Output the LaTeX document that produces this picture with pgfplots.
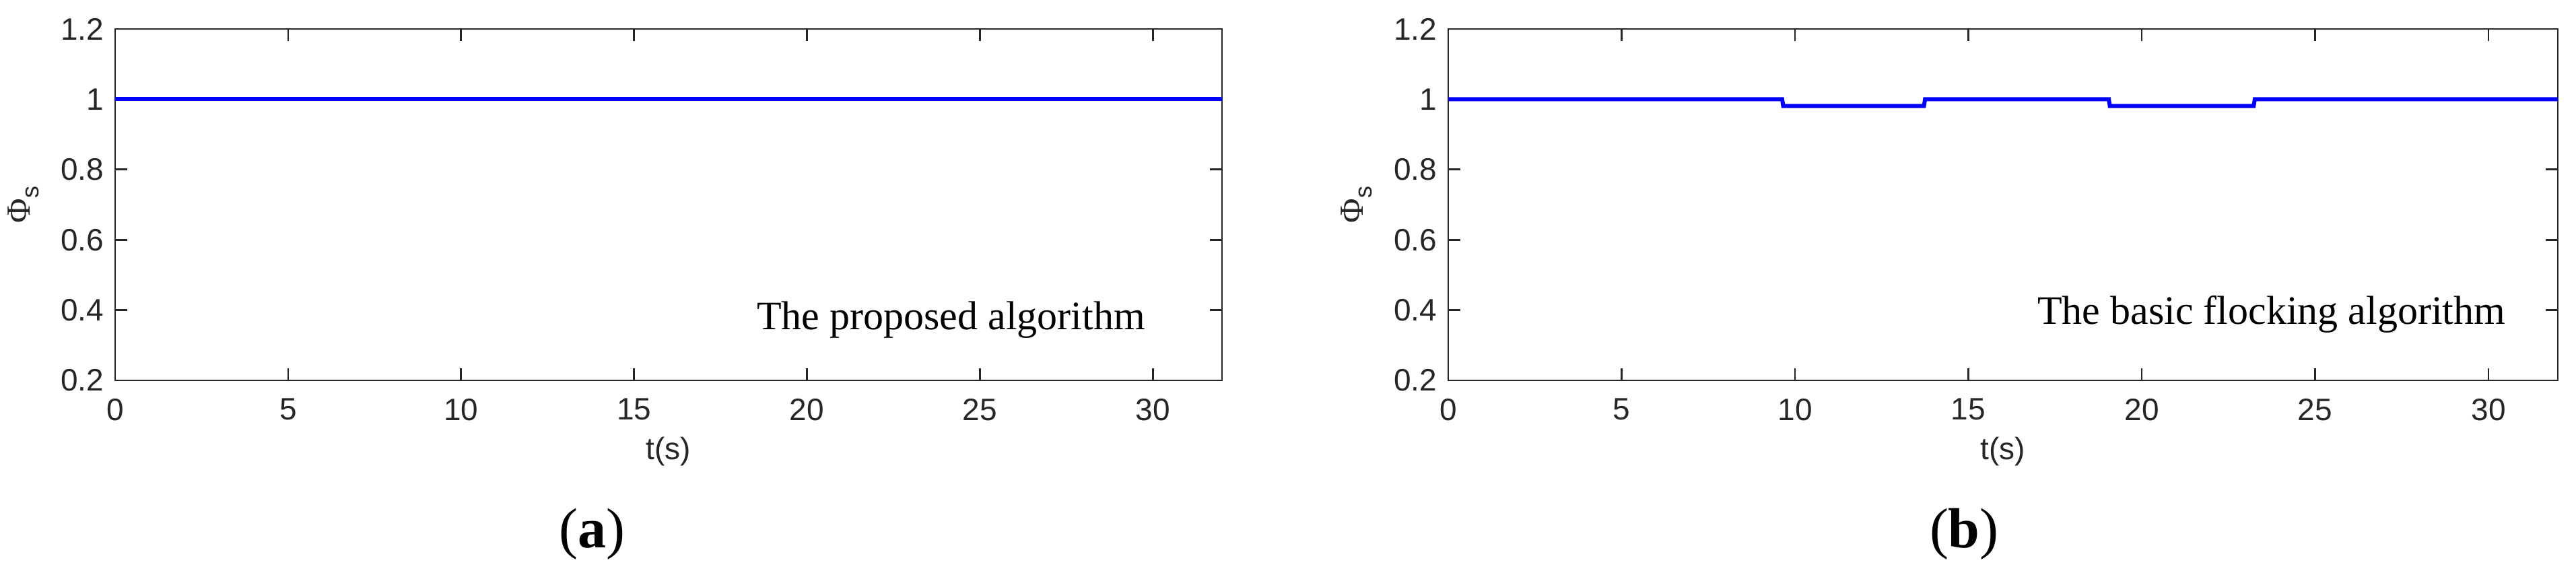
\documentclass[border=0pt]{standalone}
\usepackage{fontspec}
\setmainfont{Liberation Serif}
\setsansfont{Liberation Sans}
\usepackage{pgfplots}
\pgfplotsset{compat=1.18}
\definecolor{axgray}{RGB}{38,38,38}
\pgfplotsset{
  panel/.style={
    scale only axis,
    width=411pt, height=130.5pt,
    xmin=0, xmax=32, ymin=0.2, ymax=1.2,
    xtick={0,5,10,15,20,25,30},
    ytick={0.2,0.4,0.6,0.8,1,1.2},
    yticklabels={0.2,0.4,0.6,0.8,1,1.2},
    tick align=inside,
    major tick length=4.5pt,
    tick pos=both,
    xticklabel pos=bottom, yticklabel pos=left,
    axis line style={axgray, line width=0.67pt},
    every tick/.style={axgray, line width=0.67pt},
    /pgf/number format/assume math mode=true,
    tick label style={font=\sffamily\fontsize{11.5}{12}\selectfont, text=axgray},
    xticklabel style={yshift=-3.2pt},
    yticklabel style={xshift=-0.7pt},
    xlabel={t(s)},
    xlabel style={font=\sffamily\fontsize{11.5}{12}\selectfont, text=axgray, at={(rel axis cs:0.5,0)}, anchor=center, yshift=-26.5pt},
    ylabel={\fontsize{12.5}{13}\selectfont Φ\raisebox{-0.55ex}{\sffamily\fontsize{9}{9}\selectfont s}},
    ylabel style={text=axgray, at={(rel axis cs:0,0.5)}, anchor=center, rotate=0, yshift=34pt},
    clip=false,
  }
}
\begin{document}
\begin{tikzpicture}
\useasboundingbox (0,0) rectangle (956.5pt,214.75pt);
\begin{axis}[panel, at={(42.75pt,73.5pt)}, anchor=south west]
\addplot[blue, line width=1.5pt] coordinates {(0,1) (32,1)};
\node[anchor=base east, font=\fontsize{15}{16}\selectfont] at (axis cs:30.05,0.344) {The proposed algorithm};
\node[anchor=center, font=\fontsize{21}{22}\selectfont] at (rel axis cs:0.431,-0.437) {(\textbf{a})};
\end{axis}
\begin{axis}[panel, width=412pt, at={(537.75pt,73.5pt)}, anchor=south west]
\addplot[blue, line width=1.5pt] coordinates {
(0,1) (9.63,1) (9.66,0.981) (13.72,0.981) (13.75,1) (19.05,1) (19.08,0.981) (23.23,0.981) (23.26,1) (32,1)};
\node[anchor=base east, font=\fontsize{15}{16}\selectfont] at (axis cs:30.76,0.36) {The basic flocking algorithm};
\node[anchor=center, font=\fontsize{21}{22}\selectfont] at (rel axis cs:0.465,-0.437) {(\textbf{b})};
\end{axis}
\end{tikzpicture}
\end{document}
